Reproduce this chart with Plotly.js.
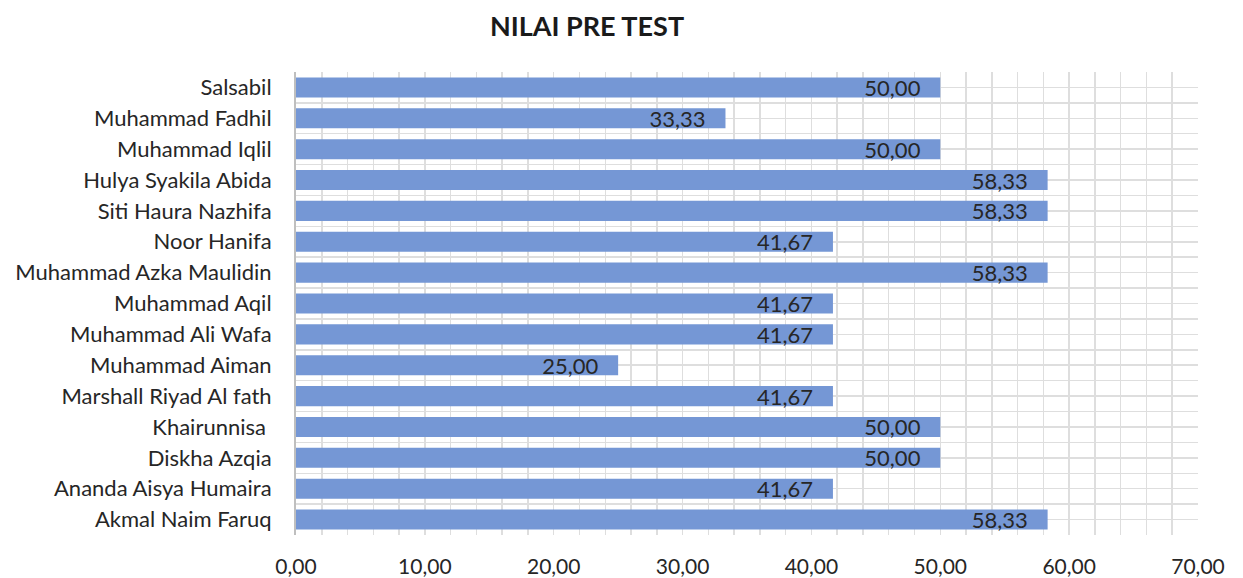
<!DOCTYPE html>
<html>
<head>
<meta charset="utf-8">
<script src="https://cdn.plot.ly/plotly-3.0.1.min.js"></script>
<style>html,body{margin:0;padding:0;background:#fff;}#chart{width:1243px;height:578px;}</style>
</head>
<body>
<div id="chart"></div>
<script>
// Categories listed bottom to top
const names = [
  "Akmal Naim Faruq",
  "Ananda Aisya Humaira",
  "Diskha Azqia",
  "Khairunnisa\u00a0",
  "Marshall Riyad Al fath",
  "Muhammad Aiman",
  "Muhammad Ali Wafa",
  "Muhammad Aqil",
  "Muhammad Azka Maulidin",
  "Noor Hanifa",
  "Siti Haura Nazhifa",
  "Hulya Syakila Abida",
  "Muhammad Iqlil",
  "Muhammad Fadhil",
  "Salsabil"
];
const scores = [58.33, 41.67, 50.00, 50.00, 41.67, 25.00, 41.67, 41.67, 58.33, 41.67, 58.33, 58.33, 50.00, 33.33, 50.00];
const chartTitle = "NILAI PRE TEST";

const FONT = "Lato, 'Open Sans', sans-serif";
const gridCol = "#dedede";

const bars = {
  type: "bar",
  orientation: "h",
  x: scores,
  y: names,
  width: 0.65,
  marker: {color: "rgb(117,151,213)", line: {width: 0}},
  texttemplate: "%{x:.2f}\u00a0\u00a0\u00a0",
  textposition: "inside",
  insidetextanchor: "end",
  textangle: 0,
  constraintext: "none",
  textfont: {family: FONT, size: 22, color: "#262626"},
  hoverinfo: "none"
};

// empty helper trace so the overlaid axis (half-category grid) is drawn
const gridHelper = {
  type: "scatter",
  x: [null],
  y: [null],
  yaxis: "y2",
  mode: "markers",
  hoverinfo: "none",
  showlegend: false
};

const layout = {
  width: 1243,
  height: 578,
  separators: ",.",
  paper_bgcolor: "#fff",
  plot_bgcolor: "#fff",
  margin: {l: 296, r: 45, t: 72, b: 43},
  showlegend: false,
  font: {family: FONT, color: "#262626"},
  title: {
    text: "<b>" + chartTitle + "</b>",
    font: {family: FONT, size: 27, color: "#1a1a1a"},
    x: 587 / 1243, xref: "container", xanchor: "center",
    y: 1 - 27 / 578, yref: "container", yanchor: "middle"
  },
  xaxis: {
    range: [0, 70],
    tick0: 0, dtick: 10,
    tickformat: ".2f",
    showgrid: true, gridcolor: gridCol, gridwidth: 1.5,
    minor: {dtick: 2, showgrid: true, gridcolor: gridCol, gridwidth: 1.5},
    zeroline: false,
    showline: false,
    ticks: "outside", ticklen: 13, tickcolor: "rgba(0,0,0,0)",
    tickfont: {family: FONT, size: 21, color: "#262626"},
    fixedrange: true
  },
  yaxis: {
    type: "category",
    range: [-0.5, names.length - 0.5],
    showgrid: false,
    zeroline: false,
    showline: true, linecolor: "#bfbfbf", linewidth: 2,
    ticks: "outside", ticklen: 18, tickcolor: "rgba(0,0,0,0)",
    tickfont: {family: FONT, size: 22, color: "#262626"},
    fixedrange: true
  },
  yaxis2: {
    overlaying: "y",
    anchor: "x",
    side: "right",
    range: [-0.5, names.length - 0.5],
    tick0: -0.5, dtick: 0.5,
    showgrid: true, gridcolor: gridCol, gridwidth: 1.5,
    showticklabels: false, ticks: "",
    zeroline: false, showline: false,
    fixedrange: true
  }
};

Plotly.newPlot("chart", [bars, gridHelper], layout, {displayModeBar: false, staticPlot: true});
</script>
</body>
</html>
